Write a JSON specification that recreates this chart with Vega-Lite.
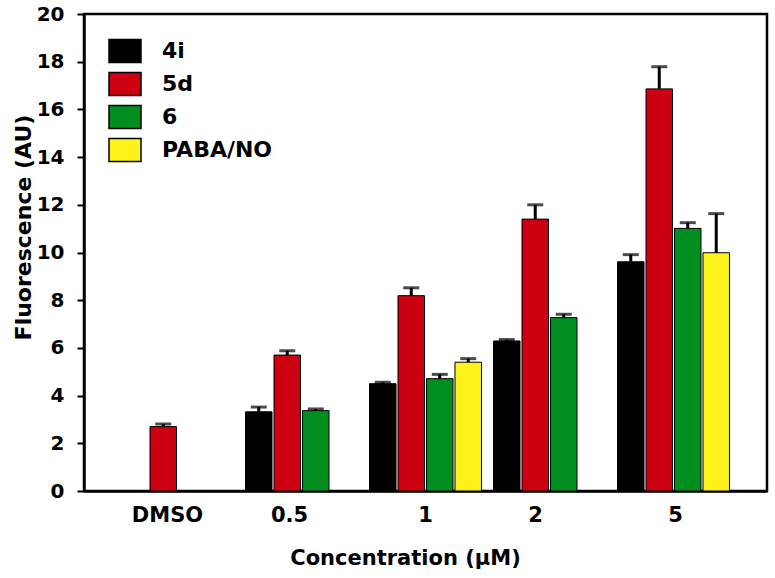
{
  "$schema": "https://vega.github.io/schema/vega-lite/v6.json",
  "width": 683,
  "height": 477,
  "autosize": {"type": "none"},
  "padding": {"left": 84, "top": 14, "right": 8, "bottom": 87},
  "background": "white",
  "config": {
    "view": {"stroke": "black", "strokeWidth": 2.5},
    "font": "DejaVu Sans"
  },
  "data": {
    "values": [
      {"conc": "DMSO", "compound": "5d", "mean": 2.70, "upper": 2.81},
      {"conc": "0.5", "compound": "4i", "mean": 3.32, "upper": 3.52},
      {"conc": "0.5", "compound": "5d", "mean": 5.70, "upper": 5.88},
      {"conc": "0.5", "compound": "6", "mean": 3.37, "upper": 3.44},
      {"conc": "1", "compound": "4i", "mean": 4.50, "upper": 4.56},
      {"conc": "1", "compound": "5d", "mean": 8.19, "upper": 8.52},
      {"conc": "1", "compound": "6", "mean": 4.71, "upper": 4.89},
      {"conc": "1", "compound": "PABA/NO", "mean": 5.40, "upper": 5.55},
      {"conc": "2", "compound": "4i", "mean": 6.29, "upper": 6.35},
      {"conc": "2", "compound": "5d", "mean": 11.40, "upper": 12.00},
      {"conc": "2", "compound": "6", "mean": 7.27, "upper": 7.41},
      {"conc": "5", "compound": "4i", "mean": 9.61, "upper": 9.91},
      {"conc": "5", "compound": "5d", "mean": 16.86, "upper": 17.79},
      {"conc": "5", "compound": "6", "mean": 11.01, "upper": 11.25},
      {"conc": "5", "compound": "PABA/NO", "mean": 9.99, "upper": 11.63}
    ]
  },
  "encoding": {
    "x": {
      "field": "conc",
      "type": "nominal",
      "sort": ["DMSO", "0.5", "1", "2", "5"],
      "scale": {"domain": ["DMSO", "0.5", "1", "2", "5"], "paddingInner": 0.097, "paddingOuter": 0.3025},
      "axis": {
        "title": "Concentration (μM)",
        "labelAngle": 0,
        "labelFontSize": 21,
        "labelFontWeight": "bold",
        "labelColor": "black",
        "labelPadding": 13,
        "labelOffset": {"condition": [
          {"test": "datum.value === 'DMSO'", "value": -10},
          {"test": "datum.value === '0.5'", "value": -12},
          {"test": "datum.value === '2'", "value": -14},
          {"test": "datum.value === '5'", "value": 2}
        ], "value": 0},
        "ticks": false,
        "domainColor": "black",
        "domainWidth": 2.5,
        "titleFontSize": 21,
        "titleFontWeight": "bold",
        "titleColor": "black",
        "titleBaseline": "alphabetic",
        "titleX": 321,
        "titleY": 73
      }
    },
    "xOffset": {
      "field": "compound",
      "type": "nominal",
      "scale": {"domain": ["4i", "5d", "6", "PABA/NO"], "paddingInner": 0.07, "paddingOuter": 0}
    }
  },
  "layer": [
    {
      "mark": {"type": "bar", "stroke": "black", "strokeWidth": 1},
      "encoding": {
        "y": {
          "field": "mean",
          "type": "quantitative",
          "scale": {"domain": [0, 20], "nice": false},
          "axis": {
            "title": "Fluorescence (AU)",
            "values": [0, 2, 4, 6, 8, 10, 12, 14, 16, 18, 20],
            "grid": false,
            "domainColor": "black",
            "domainWidth": 2.5,
            "tickColor": "black",
            "tickWidth": 2,
            "tickSize": 7,
            "labelFontSize": 20,
            "labelFontWeight": "bold",
            "labelColor": "black",
            "labelPadding": 13,
            "titleFontSize": 22,
            "titleFontWeight": "bold",
            "titleColor": "black",
            "titleBaseline": "alphabetic",
            "titleAngle": -90,
            "titleX": -54,
            "titleY": 213
          }
        },
        "color": {
          "field": "compound",
          "type": "nominal",
          "scale": {"domain": ["4i", "5d", "6", "PABA/NO"], "range": ["#000000", "#CC0010", "#008F1F", "#FFF21A"]},
          "legend": {
            "title": null,
            "orient": "none",
            "legendX": 24,
            "legendY": 20,
            "padding": 0,
            "symbolType": "M-1,-0.72H1V0.72H-1Z",
            "symbolSize": 1024,
            "symbolStrokeColor": "black",
            "symbolStrokeWidth": 1.5,
            "symbolOpacity": 1,
            "labelFontSize": 22,
            "labelFontWeight": "bold",
            "labelColor": "black",
            "labelOffset": 20,
            "rowPadding": 1
          }
        }
      }
    },
    {
      "mark": {"type": "rule", "strokeWidth": 3, "color": "black"},
      "encoding": {
        "y": {"field": "mean", "type": "quantitative"},
        "y2": {"field": "upper"}
      }
    },
    {
      "mark": {"type": "tick", "size": 16, "thickness": 3, "color": "black"},
      "encoding": {
        "y": {"field": "upper", "type": "quantitative"}
      }
    }
  ]
}
